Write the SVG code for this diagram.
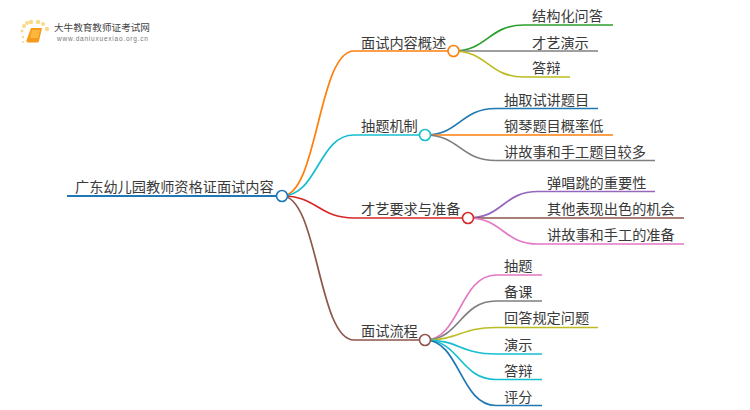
<svg xmlns="http://www.w3.org/2000/svg" width="750" height="410" viewBox="0 0 750 410">
<style>
.t{font-family:"Noto Sans CJK SC","Liberation Sans",sans-serif;font-size:14.2px;fill:#3a3a3a}
.l{fill:none;stroke-width:1.700;stroke-linecap:butt}
.n{fill:#fff;stroke-width:1.600}
</style>
<rect width="750" height="410" fill="#fff"/>
<g id="logo">
<g fill="#fbd98a"><circle cx="24" cy="26" r="2"/><circle cx="22" cy="31" r="1.500"/><circle cx="27" cy="23" r="2"/><circle cx="31" cy="22" r="2.200"/><circle cx="38" cy="22" r="2.200"/><circle cx="43" cy="24" r="2"/><circle cx="47" cy="29" r="2.200"/><circle cx="23" cy="37" r="1.200"/><circle cx="23" cy="42" r="1"/></g>
<path d="M31 28h11l-3 13q-.5 1.500-2 1.500h-9q-2 0-1.500-2z" fill="#f59a1b"/>
<path d="M32 30h8l-2 8h-8z" fill="#fbb83c"/>
<text x="54" y="31" style="font-family:'Noto Sans CJK SC',sans-serif;font-size:9.600px;fill:#444">大牛教育教师证考试网</text>
<text x="57" y="41" style="font-family:'Liberation Sans',sans-serif;font-size:6.500px;letter-spacing:.78px;fill:#777">www.daniuxuexiao.org.cn</text>
</g>
<g id="connectors">
<path class="l" style="stroke-width:2.200" stroke="#1f77b4" d="M67 196H282"/>
<path class="l" stroke="#ff7f0e" d="M282 196C318 196 318 51 354 51H453"/>
<path class="l" stroke="#17becf" d="M282 196C318 196 318 135 354 135H425"/>
<path class="l" stroke="#d62728" d="M282 196C318 196 318 218 354 218H468"/>
<path class="l" stroke="#8c564b" d="M282 196C318 196 318 340 354 340H425"/>
<path class="l" stroke="#2ca02c" d="M453 51C488 51 488 25 524 25H613"/>
<path class="l" stroke="#7f7f7f" d="M453 51H598"/>
<path class="l" stroke="#bcbd22" d="M453 51C488 51 488 77 524 77H570"/>
<path class="l" stroke="#1f77b4" d="M425 135C460 135 460 108.500 496 108.500H598"/>
<path class="l" stroke="#ff7f0e" d="M425 135H613"/>
<path class="l" stroke="#7f7f7f" d="M425 135C460 135 460 160.500 496 160.500H655"/>
<path class="l" stroke="#9467bd" d="M468 218C503 218 503 191.500 538 191.500H655"/>
<path class="l" stroke="#8c564b" d="M468 218H684"/>
<path class="l" stroke="#e377c2" d="M468 218C503 218 503 244 538 244H684"/>
<path class="l" stroke="#e377c2" d="M425 340C460 340 460 275 496 275H542"/>
<path class="l" stroke="#7f7f7f" d="M425 340C460 340 460 301 496 301H542"/>
<path class="l" stroke="#bcbd22" d="M425 340C460 340 460 327.500 496 327.500H598"/>
<path class="l" stroke="#17becf" d="M425 340C460 340 460 354 496 354H542"/>
<path class="l" stroke="#17becf" d="M425 340C460 340 460 379.500 496 379.500H542"/>
<path class="l" stroke="#1f77b4" d="M425 340C460 340 460 405.500 496 405.500H542"/>
</g>
<g id="root"><text class="t" x="75" y="192">广东幼儿园教师资格证面试内容</text><circle class="n" stroke="#1f77b4" cx="282" cy="196" r="5.500"/></g>
<g id="n1"><text class="t" x="361" y="48">面试内容概述</text><circle class="n" stroke="#ff7f0e" cx="453.500" cy="51" r="5.500"/></g>
<g id="n2"><text class="t" x="361" y="131">抽题机制</text><circle class="n" stroke="#17becf" cx="425" cy="135" r="5.500"/></g>
<g id="n3"><text class="t" x="361" y="214">才艺要求与准备</text><circle class="n" stroke="#d62728" cx="468" cy="218" r="5.500"/></g>
<g id="n4"><text class="t" x="361" y="336">面试流程</text><circle class="n" stroke="#8c564b" cx="425" cy="340" r="5.500"/></g>
<g id="n1a"><text class="t" x="532" y="21">结构化问答</text></g>
<g id="n1b"><text class="t" x="532" y="48">才艺演示</text></g>
<g id="n1c"><text class="t" x="532" y="73">答辩</text></g>
<g id="n2a"><text class="t" x="504" y="105">抽取试讲题目</text></g>
<g id="n2b"><text class="t" x="504" y="131">钢琴题目概率低</text></g>
<g id="n2c"><text class="t" x="504" y="157">讲故事和手工题目较多</text></g>
<g id="n3a"><text class="t" x="547" y="188">弹唱跳的重要性</text></g>
<g id="n3b"><text class="t" x="547" y="214">其他表现出色的机会</text></g>
<g id="n3c"><text class="t" x="547" y="240">讲故事和手工的准备</text></g>
<g id="n4a"><text class="t" x="504" y="271">抽题</text></g>
<g id="n4b"><text class="t" x="504" y="297">备课</text></g>
<g id="n4c"><text class="t" x="504" y="323">回答规定问题</text></g>
<g id="n4d"><text class="t" x="504" y="350">演示</text></g>
<g id="n4e"><text class="t" x="504" y="376">答辩</text></g>
<g id="n4f"><text class="t" x="504" y="402">评分</text></g>
</svg>
